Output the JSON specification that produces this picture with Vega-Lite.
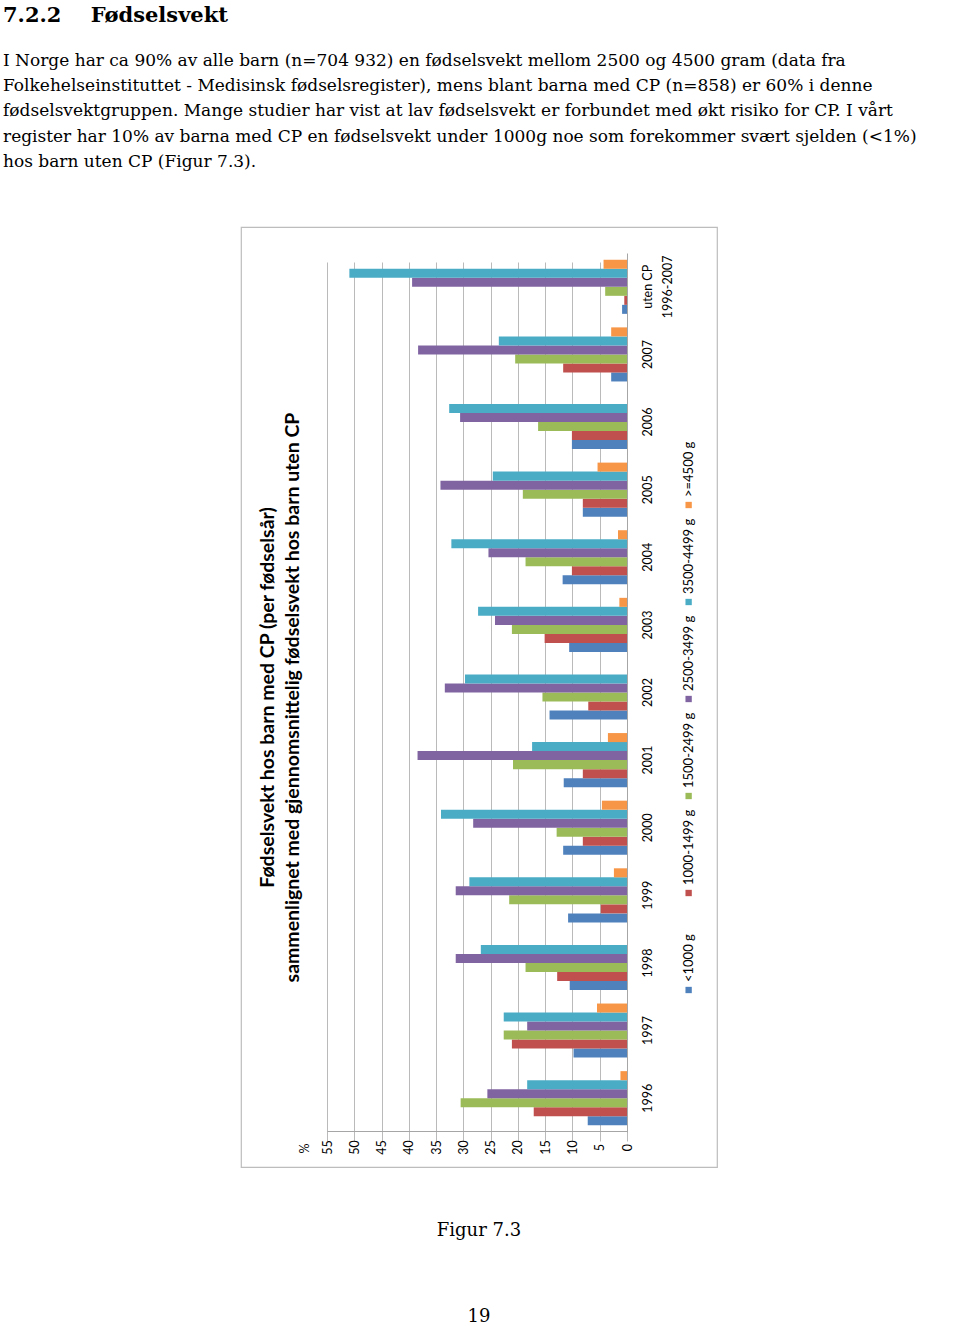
{
  "$schema": "https://vega.github.io/schema/vega-lite/v6.json",
  "padding": {"left": 3, "top": 4, "right": 0, "bottom": 0},
  "autosize": {"type": "pad"},
  "background": "white",
  "title": {
    "text": "7.2.2\u00a0\u00a0\u00a0\u00a0Fødselsvekt",
    "subtitle": [
      "I Norge har ca 90% av alle barn (n=704 932) en fødselsvekt mellom 2500 og 4500 gram (data fra",
      "Folkehelseinstituttet - Medisinsk fødselsregister), mens blant barna med CP (n=858) er 60% i denne",
      "fødselsvektgruppen. Mange studier har vist at lav fødselsvekt er forbundet med økt risiko for CP. I vårt",
      "register har 10% av barna med CP en fødselsvekt under 1000g noe som forekommer svært sjelden (<1%)",
      "hos barn uten CP (Figur 7.3)."
    ],
    "anchor": "start",
    "frame": "group",
    "dx": -238,
    "font": "DejaVu Serif",
    "fontSize": 21,
    "fontWeight": "bold",
    "color": "#000000",
    "subtitleFont": "DejaVu Serif",
    "subtitleFontSize": 17,
    "subtitleColor": "#000000",
    "subtitleLineHeight": 25.2,
    "subtitlePadding": 27.5,
    "offset": 56.5
  },
  "datasets": {
    "bars": [
      {"cat": "1996", "series": "<1000 g", "pct": 7.2},
      {"cat": "1996", "series": "1000-1499 g", "pct": 17.1},
      {"cat": "1996", "series": "1500-2499 g", "pct": 30.5},
      {"cat": "1996", "series": "2500-3499 g", "pct": 25.6},
      {"cat": "1996", "series": "3500-4499 g", "pct": 18.3},
      {"cat": "1996", "series": ">=4500 g", "pct": 1.2},
      {"cat": "1997", "series": "<1000 g", "pct": 9.8},
      {"cat": "1997", "series": "1000-1499 g", "pct": 21.1},
      {"cat": "1997", "series": "1500-2499 g", "pct": 22.6},
      {"cat": "1997", "series": "2500-3499 g", "pct": 18.3},
      {"cat": "1997", "series": "3500-4499 g", "pct": 22.6},
      {"cat": "1997", "series": ">=4500 g", "pct": 5.5},
      {"cat": "1998", "series": "<1000 g", "pct": 10.5},
      {"cat": "1998", "series": "1000-1499 g", "pct": 12.8},
      {"cat": "1998", "series": "1500-2499 g", "pct": 18.6},
      {"cat": "1998", "series": "2500-3499 g", "pct": 31.4},
      {"cat": "1998", "series": "3500-4499 g", "pct": 26.8},
      {"cat": "1998", "series": ">=4500 g", "pct": 0},
      {"cat": "1999", "series": "<1000 g", "pct": 10.8},
      {"cat": "1999", "series": "1000-1499 g", "pct": 4.8},
      {"cat": "1999", "series": "1500-2499 g", "pct": 21.6},
      {"cat": "1999", "series": "2500-3499 g", "pct": 31.4},
      {"cat": "1999", "series": "3500-4499 g", "pct": 28.9},
      {"cat": "1999", "series": ">=4500 g", "pct": 2.4},
      {"cat": "2000", "series": "<1000 g", "pct": 11.7},
      {"cat": "2000", "series": "1000-1499 g", "pct": 8.1},
      {"cat": "2000", "series": "1500-2499 g", "pct": 12.9},
      {"cat": "2000", "series": "2500-3499 g", "pct": 28.2},
      {"cat": "2000", "series": "3500-4499 g", "pct": 34.1},
      {"cat": "2000", "series": ">=4500 g", "pct": 4.6},
      {"cat": "2001", "series": "<1000 g", "pct": 11.6},
      {"cat": "2001", "series": "1000-1499 g", "pct": 8.1},
      {"cat": "2001", "series": "1500-2499 g", "pct": 20.9},
      {"cat": "2001", "series": "2500-3499 g", "pct": 38.4},
      {"cat": "2001", "series": "3500-4499 g", "pct": 17.4},
      {"cat": "2001", "series": ">=4500 g", "pct": 3.5},
      {"cat": "2002", "series": "<1000 g", "pct": 14.2},
      {"cat": "2002", "series": "1000-1499 g", "pct": 7.1},
      {"cat": "2002", "series": "1500-2499 g", "pct": 15.5},
      {"cat": "2002", "series": "2500-3499 g", "pct": 33.4},
      {"cat": "2002", "series": "3500-4499 g", "pct": 29.7},
      {"cat": "2002", "series": ">=4500 g", "pct": 0},
      {"cat": "2003", "series": "<1000 g", "pct": 10.6},
      {"cat": "2003", "series": "1000-1499 g", "pct": 15.1},
      {"cat": "2003", "series": "1500-2499 g", "pct": 21.1},
      {"cat": "2003", "series": "2500-3499 g", "pct": 24.2},
      {"cat": "2003", "series": "3500-4499 g", "pct": 27.3},
      {"cat": "2003", "series": ">=4500 g", "pct": 1.4},
      {"cat": "2004", "series": "<1000 g", "pct": 11.8},
      {"cat": "2004", "series": "1000-1499 g", "pct": 10.1},
      {"cat": "2004", "series": "1500-2499 g", "pct": 18.6},
      {"cat": "2004", "series": "2500-3499 g", "pct": 25.4},
      {"cat": "2004", "series": "3500-4499 g", "pct": 32.2},
      {"cat": "2004", "series": ">=4500 g", "pct": 1.65},
      {"cat": "2005", "series": "<1000 g", "pct": 8.1},
      {"cat": "2005", "series": "1000-1499 g", "pct": 8.1},
      {"cat": "2005", "series": "1500-2499 g", "pct": 19.1},
      {"cat": "2005", "series": "2500-3499 g", "pct": 34.2},
      {"cat": "2005", "series": "3500-4499 g", "pct": 24.6},
      {"cat": "2005", "series": ">=4500 g", "pct": 5.4},
      {"cat": "2006", "series": "<1000 g", "pct": 10.1},
      {"cat": "2006", "series": "1000-1499 g", "pct": 10.1},
      {"cat": "2006", "series": "1500-2499 g", "pct": 16.3},
      {"cat": "2006", "series": "2500-3499 g", "pct": 30.6},
      {"cat": "2006", "series": "3500-4499 g", "pct": 32.6},
      {"cat": "2006", "series": ">=4500 g", "pct": 0},
      {"cat": "2007", "series": "<1000 g", "pct": 2.9},
      {"cat": "2007", "series": "1000-1499 g", "pct": 11.7},
      {"cat": "2007", "series": "1500-2499 g", "pct": 20.5},
      {"cat": "2007", "series": "2500-3499 g", "pct": 38.3},
      {"cat": "2007", "series": "3500-4499 g", "pct": 23.5},
      {"cat": "2007", "series": ">=4500 g", "pct": 2.9},
      {"cat": "uten CP 1996-2007", "series": "<1000 g", "pct": 0.9},
      {"cat": "uten CP 1996-2007", "series": "1000-1499 g", "pct": 0.5},
      {"cat": "uten CP 1996-2007", "series": "1500-2499 g", "pct": 4.0},
      {"cat": "uten CP 1996-2007", "series": "2500-3499 g", "pct": 39.4},
      {"cat": "uten CP 1996-2007", "series": "3500-4499 g", "pct": 50.9},
      {"cat": "uten CP 1996-2007", "series": ">=4500 g", "pct": 4.3}
    ],
    "legend": [
      {"series": "<1000 g"},
      {"series": "1000-1499 g"},
      {"series": "1500-2499 g"},
      {"series": "2500-3499 g"},
      {"series": "3500-4499 g"},
      {"series": ">=4500 g"}
    ],
    "footer": [
      {"t": "Figur 7.3"},
      {"t": "19"}
    ]
  },
  "spacing": 53.7,
  "vconcat": [
    {
      "width": 476,
      "height": 940,
      "view": {"stroke": "#bdbdbd", "strokeWidth": 1.2},
      "layer": [
        {
          "data": {"name": "bars"},
          "mark": {"type": "bar"},
          "encoding": {
            "y": {
              "field": "cat",
              "type": "nominal",
              "sort": ["uten CP 1996-2007", "2007", "2006", "2005", "2004", "2003", "2002", "2001", "2000", "1999", "1998", "1997", "1996"],
              "scale": {"range": [26, 905], "paddingInner": 0.2, "paddingOuter": 0.1},
              "axis": {
                "orient": "right",
                "offset": -90,
                "title": null,
                "grid": false,
                "ticks": false,
                "tickSize": 0,
                "domainColor": "#a6a6a6",
                "domainWidth": 1,
                "labelAngle": -90,
                "labelAlign": "center",
                "labelBaseline": "top",
                "labelPadding": 14,
                "labelFont": "Lato",
                "labelFontSize": 12.5,
                "labelColor": "#000000",
                "labelLineHeight": 20,
                "labelOverlap": false,
                "labelExpr": "datum.value == 'uten CP 1996-2007' ? ['uten CP', '1996-2007'] : datum.value"
              }
            },
            "yOffset": {
              "field": "series",
              "type": "nominal",
              "sort": [">=4500 g", "3500-4499 g", "2500-3499 g", "1500-2499 g", "1000-1499 g", "<1000 g"],
              "scale": {"paddingInner": 0, "paddingOuter": 0}
            },
            "x": {
              "field": "pct",
              "type": "quantitative",
              "scale": {"domain": [0, 55], "range": [386, 86], "nice": false, "zero": true},
              "axis": {
                "orient": "bottom",
                "offset": -36,
                "values": [0, 5, 10, 15, 20, 25, 30, 35, 40, 45, 50, 55],
                "grid": true,
                "gridColor": "#bababa",
                "gridWidth": 1,
                "ticks": false,
                "tickSize": 0,
                "domainColor": "#a6a6a6",
                "domainWidth": 1,
                "labelAngle": -90,
                "labelAlign": "center",
                "labelBaseline": "middle",
                "labelPadding": 16,
                "labelFlush": false,
                "labelOverlap": false,
                "labelFont": "Lato",
                "labelFontSize": 12.5,
                "labelColor": "#000000",
                "title": "%",
                "titleAngle": -90,
                "titleX": 63,
                "titleY": 17,
                "titleAlign": "center",
                "titleBaseline": "middle",
                "titleFont": "Lato",
                "titleFontSize": 12.5,
                "titleFontWeight": "normal",
                "titleColor": "#000000"
              }
            },
            "color": {
              "field": "series",
              "type": "nominal",
              "scale": {
                "domain": ["<1000 g", "1000-1499 g", "1500-2499 g", "2500-3499 g", "3500-4499 g", ">=4500 g"],
                "range": ["#4F81BD", "#C0504D", "#9BBB59", "#8064A2", "#4BACC6", "#F79646"]
              },
              "legend": null
            }
          }
        },
        {
          "data": {"name": "legend"},
          "layer": [
            {
              "mark": {"type": "point", "shape": "square", "filled": true, "size": 40, "opacity": 1},
              "encoding": {
                "x": {"datum": -11.3, "type": "quantitative"},
                "y": {
                  "field": "series",
                  "type": "nominal",
                  "sort": [">=4500 g", "3500-4499 g", "2500-3499 g", "1500-2499 g", "1000-1499 g", "<1000 g"],
                  "scale": {"type": "point", "range": [278, 763], "padding": 0},
                  "axis": {
                    "orient": "left",
                    "offset": -61,
                    "labels": false,
                    "ticks": false,
                    "domain": false,
                    "grid": false,
                    "title": ["Fødselsvekt hos barn med CP (per fødselsår)", "sammenlignet med gjennomsnittelig fødselsvekt hos barn uten CP"],
                    "titleFont": "Lato",
                    "titleFontSize": 19.5,
                    "titleFontWeight": "bold",
                    "titleColor": "#000000",
                    "titlePadding": 0,
                    "titleLineHeight": 25,
                    "titleY": 470
                  }
                },
                "color": {"field": "series", "type": "nominal", "legend": null}
              }
            },
            {
              "mark": {"type": "text", "angle": -90, "align": "left", "baseline": "middle", "dx": 8, "font": "Lato", "fontSize": 13, "color": "#000000"},
              "encoding": {
                "x": {"datum": -11.3, "type": "quantitative"},
                "y": {
                  "field": "series",
                  "type": "nominal",
                  "sort": [">=4500 g", "3500-4499 g", "2500-3499 g", "1500-2499 g", "1000-1499 g", "<1000 g"],
                  "scale": {"type": "point", "range": [278, 763], "padding": 0},
                  "axis": {
                    "orient": "left",
                    "offset": -61,
                    "labels": false,
                    "ticks": false,
                    "domain": false,
                    "grid": false,
                    "title": ["Fødselsvekt hos barn med CP (per fødselsår)", "sammenlignet med gjennomsnittelig fødselsvekt hos barn uten CP"],
                    "titleFont": "Lato",
                    "titleFontSize": 19.5,
                    "titleFontWeight": "bold",
                    "titleColor": "#000000",
                    "titlePadding": 0,
                    "titleLineHeight": 25,
                    "titleY": 470
                  }
                },
                "text": {"field": "series", "type": "nominal"}
              }
            }
          ]
        }
      ],
      "resolve": {"scale": {"y": "independent"}, "axis": {"y": "independent"}}
    },
    {
      "width": 476,
      "height": 94.6,
      "view": {"stroke": null},
      "data": {"name": "footer"},
      "mark": {"type": "text", "font": "DejaVu Serif", "fontSize": 18, "color": "#000000", "baseline": "middle"},
      "encoding": {
        "y": {"field": "t", "type": "nominal", "sort": ["Figur 7.3", "19"], "scale": {"type": "point", "padding": 0.05}, "axis": null},
        "text": {"field": "t", "type": "nominal"}
      }
    }
  ],
  "config": {
    "view": {"stroke": null},
    "axis": {"labelFont": "Lato", "titleFont": "Lato"}
  }
}
